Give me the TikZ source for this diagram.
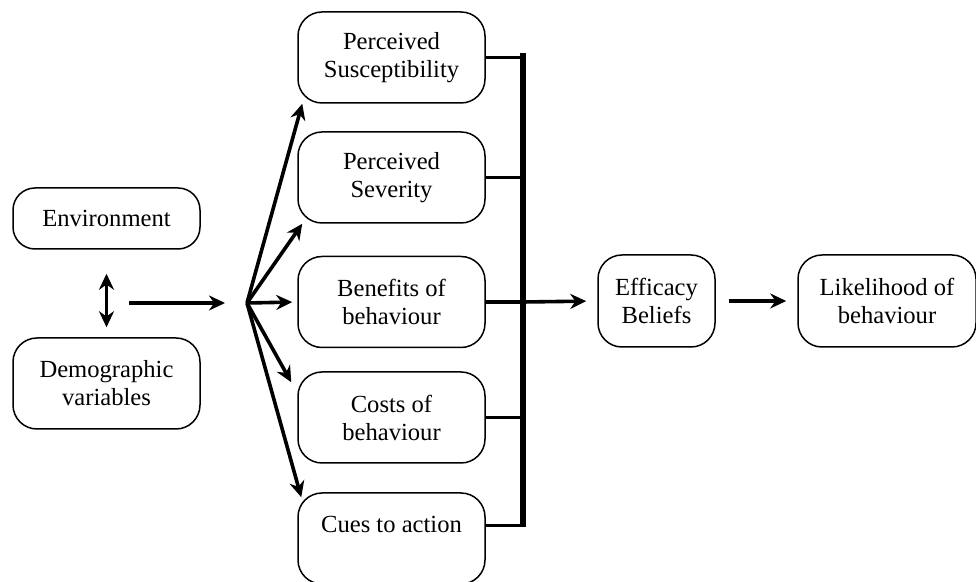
\documentclass[tikz,border=0pt]{standalone}
\usepackage{fontspec}
\setmainfont{Liberation Serif}
\usetikzlibrary{arrows.meta}

\begin{document}
\begin{tikzpicture}[x=0.5pt, y=-0.5pt, >={Stealth[length=8pt,width=7.5pt]},
  box/.style={draw, rounded corners=12pt, align=center, line width=0.75pt,
    minimum width=93.5pt, minimum height=45.5pt, inner sep=2pt,
    font=\fontsize{12.3}{14}\selectfont},
  edge/.style={->, line width=1.8pt},
  stub/.style={line width=1.8pt}
]
\useasboundingbox (0,0) rectangle (976,582);
\node[box, minimum height=30.5pt, rounded corners=11pt] (env) at (106.5,218.5) {Environment};
\node[box] (demo) at (106.5,383.5) {Demographic\\variables};
\node[box] (sus) at (391.5,57.5) {Perceived\\Susceptibility};
\node[box] (sev) at (391.5,177.5) {Perceived\\Severity};
\node[box] (ben) at (391.5,302) {Benefits of\\behaviour};
\node[box] (cost) at (391.5,417.5) {Costs of\\behaviour};
\node[box] (cue) at (391.5,538.5) {Cues to action\\\mbox{}};
\node[box, minimum width=58.5pt, minimum height=46pt] (eff) at (656.5,301) {Efficacy\\Beliefs};
\node[box, minimum width=89pt, minimum height=46pt] (lik) at (887,301) {Likelihood of\\behaviour};
\coordinate (src) at (129,303);
\coordinate (fan) at (247,303);
\coordinate (bartop) at (523,53);
\coordinate (barbot) at (523,527);
% left side
\draw[<->, line width=1.8pt, shorten <=12pt, shorten >=5pt] (env) -- (demo);
\draw[edge, shorten >=11pt] (src) -- (fan);
\draw[edge] (fan) -- ([xshift=2.5pt]sus.south west);
\draw[edge] (fan) -- ([xshift=2.5pt]sev.south west);
\draw[edge, shorten >=2.5pt] (fan) -- (ben.west);
\draw[edge] (fan) -- ([xshift=-3pt, yshift=-5.5pt]cost.north west);
\draw[edge] (fan) -- ([xshift=2pt, yshift=-2.5pt]cue.north west);
% bar
\draw[line width=2.6pt] (bartop) -- (barbot);
\draw[stub] (sus.east) -- (sus.east -| bartop);
\draw[stub] (sev.east) -- (sev.east -| bartop);
\draw[stub] (ben.east) -- (ben.east -| bartop);
\draw[stub] (cost.east) -- (cost.east -| bartop);
\draw[stub] ([yshift=6.5pt]cue.east) -- ([yshift=6.5pt]cue.east -| bartop);
% right side
\draw[edge, shorten >=5.5pt] (ben.east -| bartop) -- (eff.west);
\draw[edge, shorten <=6.5pt, shorten >=5.5pt] (eff) -- (lik);
\end{tikzpicture}
\end{document}
